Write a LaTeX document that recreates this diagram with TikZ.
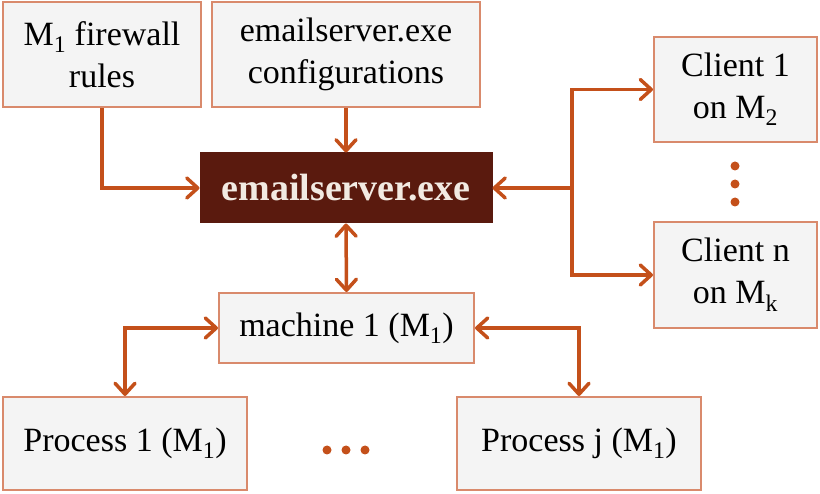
\documentclass[tikz,border=0pt]{standalone}
\usepackage{fontspec}
\setmainfont{Liberation Serif}
\usetikzlibrary{arrows.meta}
\definecolor{arr}{HTML}{C4501A}
\definecolor{bord}{HTML}{D98A6C}
\definecolor{boxfill}{HTML}{F4F4F4}
\definecolor{darkbox}{HTML}{5A1A0E}
\definecolor{lighttext}{HTML}{F2EAE2}
\begin{document}
\begin{tikzpicture}[x=1pt,y=-1pt,
  box/.style={draw=bord, line width=2pt, fill=boxfill, inner sep=0pt, align=center,
    font=\fontsize{34}{42}\selectfont},
  conn/.style={draw=arr, line width=3.5pt},
  >={Straight Barb[length=11pt,width=20pt,round]},
  dot/.style={fill=arr, draw=none, circle, inner sep=0pt, minimum size=9pt}]
\useasboundingbox (0,0) rectangle (820,494);
\node[box, minimum width=198pt, minimum height=105pt] (fw) at (102,54.5) {M\textsubscript{1} firewall\\rules};
\node[box, minimum width=268pt, minimum height=105pt] (cfg) at (346,54.5) {emailserver.exe\\configurations};
\node[draw=darkbox, fill=darkbox, line width=1pt, inner sep=0pt, minimum width=292pt, minimum height=70pt,
  text=lighttext, font=\fontsize{38}{44}\selectfont\bfseries] (srv) at (346,188) {emailserver.exe};
\node[box, minimum width=163pt, minimum height=105pt] (c1) at (735.5,89.5) {Client 1\\on M\textsubscript{2}};
\node[box, minimum width=163pt, minimum height=106pt] (cn) at (735.5,275) {Client n\\on M\textsubscript{k}};
\node[box, minimum width=255pt, minimum height=70pt] (m) at (346.5,328) {machine 1 (M\textsubscript{1})};
\node[box, minimum width=244pt, minimum height=93pt] (p1) at (125,443.5) {Process 1 (M\textsubscript{1})};
\node[box, minimum width=244pt, minimum height=93pt] (pj) at (579,443.5) {Process j (M\textsubscript{1})};
\node[dot] (v1) at (735,166) {};
\node[dot] (v2) at (735,184) {};
\node[dot] (v3) at (735,202) {};
\node[dot] (h1) at (327,450) {};
\node[dot] (h2) at (346,450) {};
\node[dot] (h3) at (365,450) {};
\coordinate (tr) at (572,188);
\draw[conn,->] (fw.south) |- (srv.west);
\draw[conn,->] (cfg.south) -- (srv.north);
\draw[conn,<->] (srv.south) -- (m.north);
\draw[conn,->] (tr) -- (srv.east);
\draw[conn,->] (tr) |- (c1.west);
\draw[conn,->] (tr) |- (cn.west);
\draw[conn,<->] (m.west) -| (p1.north);
\draw[conn,<->] (m.east) -| (pj.north);
\end{tikzpicture}
\end{document}
